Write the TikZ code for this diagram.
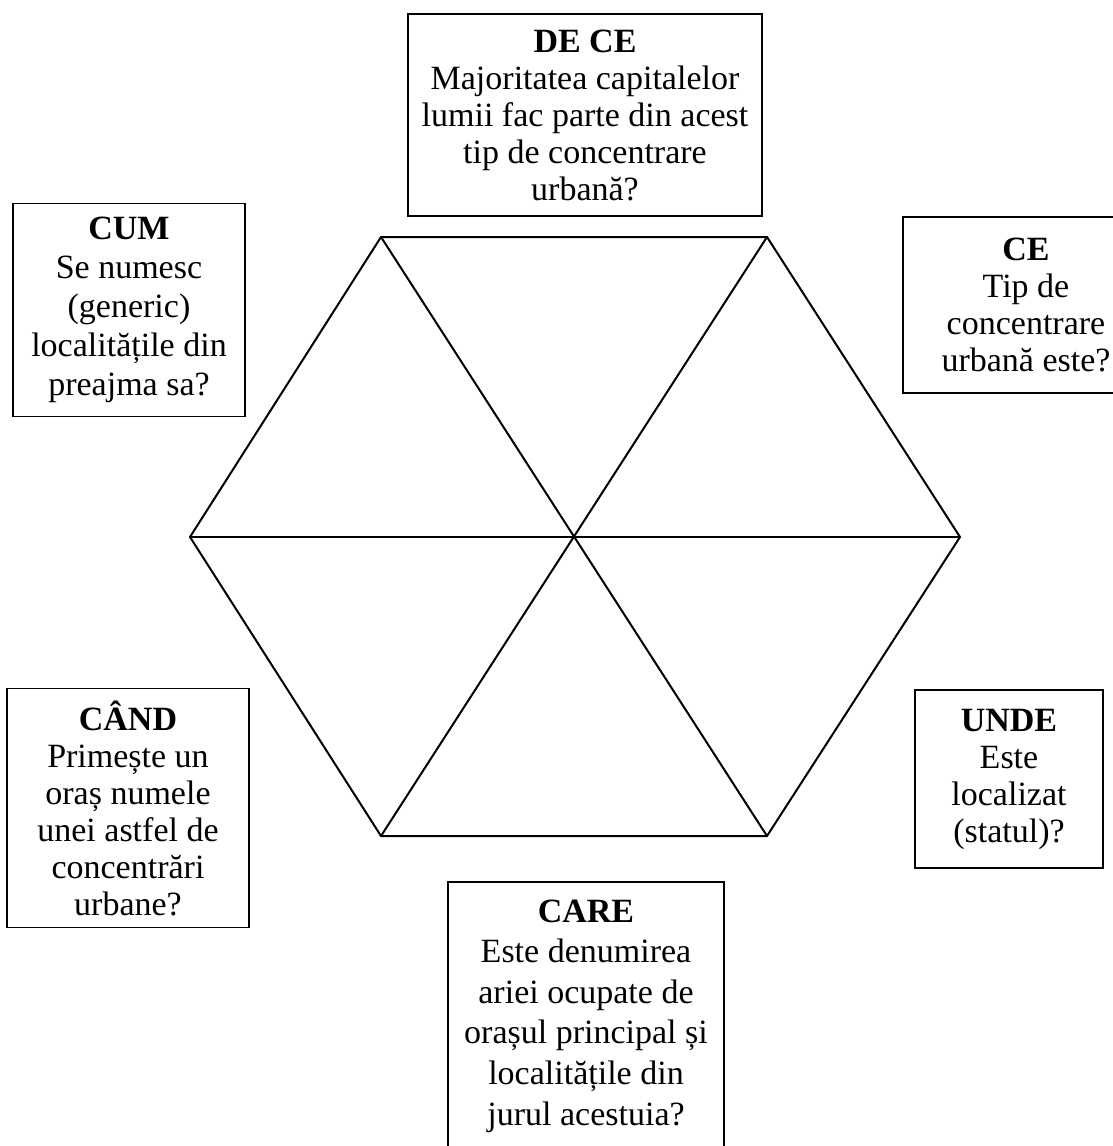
\documentclass[tikz,border=0pt]{standalone}
\usepackage{fontspec}
\setmainfont{Liberation Serif}
\tikzset{
  qbox/.style={draw, line width=0.8pt, inner sep=0pt, align=center, font=\fontsize{17}{18.5}\selectfont},
  hexline/.style={line width=1pt, line join=miter}
}

\begin{document}
\begin{tikzpicture}[x=0.5pt,y=-0.5pt]
  \useasboundingbox (0,0) rectangle (1113,1146);
  % hexagon split into six triangles
  \coordinate (O)  at (575,537);
  \coordinate (h1) at (960,537);
  \coordinate (h2) at (767,237);
  \coordinate (h3) at (381,237);
  \coordinate (h4) at (190,537);
  \coordinate (h5) at (381,836);
  \coordinate (h6) at (767,836);
  \draw[hexline] (h1) -- (h2) -- (h3) -- (h4) -- (h5) -- (h6) -- cycle;
  \foreach \a/\b in {1/4,2/5,3/6}
    \draw[hexline] (h\a) -- (h\b);
  % question boxes
  \node[qbox, minimum width=177pt, minimum height=101pt] (dece) at (585,115)
    {\textbf{DE CE}\\Majoritatea capitalelor\\lumii fac parte din acest\\tip de concentrare\\urbană?};
  \node[qbox, minimum width=116pt, minimum height=106.5pt, font=\fontsize{17}{19.5}\selectfont] (cum) at (129,310)
    {\textbf{CUM}\\Se numesc\\(generic)\\localitățile din\\preajma sa?};
  \node[qbox, minimum width=123pt, minimum height=88pt] (ce) at (1026,305)
    {\textbf{CE}\\Tip de\\concentrare\\urbană este?};
  \node[qbox, minimum width=121pt, minimum height=119.5pt] (cand) at (128,808)
    {\textbf{CÂND}\\Primește un\\oraș numele\\unei astfel de\\concentrări\\urbane?};
  \node[qbox, minimum width=94pt, minimum height=89pt] (unde) at (1009,779)
    {\textbf{UNDE}\\Este\\localizat\\(statul)?};
  \node[qbox, minimum width=138pt, minimum height=134pt, font=\fontsize{17}{20.3}\selectfont] (care) at (586,1016)
    {\textbf{CARE}\\Este denumirea\\ariei ocupate de\\orașul principal și\\localitățile din\\jurul acestuia?};
\end{tikzpicture}
\end{document}
